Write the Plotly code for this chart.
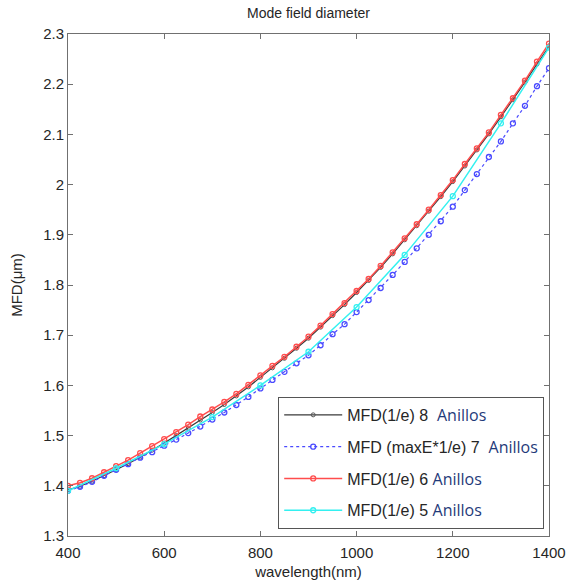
import plotly.graph_objects as go

wl = list(range(400, 1401, 25))
wl_c = list(range(400, 1401, 100))

mfd8 = [1.392, 1.399, 1.409, 1.420, 1.432, 1.444, 1.457, 1.471, 1.485, 1.500,
        1.515, 1.531, 1.546, 1.562, 1.579, 1.597, 1.616, 1.635, 1.654, 1.674,
        1.694, 1.716, 1.739, 1.761, 1.785, 1.809, 1.835, 1.862, 1.890, 1.918,
        1.947, 1.976, 2.006, 2.037, 2.069, 2.101, 2.135, 2.169, 2.204, 2.240, 2.275]
mfd7 = [1.390, 1.398, 1.408, 1.420, 1.432, 1.443, 1.456, 1.467, 1.480, 1.492,
        1.505, 1.518, 1.532, 1.546, 1.561, 1.577, 1.594, 1.611, 1.627, 1.644,
        1.660, 1.680, 1.702, 1.722, 1.746, 1.770, 1.794, 1.820, 1.846, 1.873,
        1.900, 1.927, 1.956, 1.989, 2.021, 2.055, 2.086, 2.122, 2.157, 2.196, 2.232]
mfd6 = [1.400, 1.406, 1.415, 1.427, 1.439, 1.451, 1.465, 1.479, 1.493, 1.507,
        1.522, 1.538, 1.552, 1.567, 1.583, 1.601, 1.620, 1.639, 1.657, 1.677,
        1.697, 1.719, 1.742, 1.764, 1.788, 1.812, 1.838, 1.865, 1.893, 1.921,
        1.950, 1.979, 2.009, 2.041, 2.072, 2.104, 2.139, 2.172, 2.207, 2.245, 2.281]
mfd5 = [1.390, 1.435, 1.483, 1.537, 1.600, 1.667, 1.756, 1.860, 1.977, 2.122, 2.273]

names = ["MFD(1/e) 8  ", "MFD (maxE*1/e) 7  ", "MFD(1/e) 6 ", "MFD(1/e) 5 "]
suffix = "<span style='font-family:\"Open Sans\"; fill:#1f3a7a'>Anillos</span>"

fig = go.Figure()
fig.add_trace(go.Scatter(x=wl, y=mfd8, mode="lines+markers", name=names[0] + suffix,
                         legendgroup="a",
                         line=dict(color="#3a3a3a", width=1.2),
                         marker=dict(symbol="circle-open", size=4, color="#555555", line=dict(width=1))))
fig.add_trace(go.Scatter(x=wl, y=mfd7, mode="lines+markers", name=names[1] + suffix,
                         legendgroup="b",
                         line=dict(color="#4a4aff", width=1.2, dash="dot"),
                         marker=dict(symbol="circle-open", size=5, color="#4a4aff", line=dict(width=1.3))))
fig.add_trace(go.Scatter(x=wl, y=mfd6, mode="lines+markers", name=names[2] + suffix,
                         legendgroup="c",
                         line=dict(color="#ff4d4d", width=1.5),
                         marker=dict(symbol="circle-open", size=5, color="#ff4d4d", line=dict(width=1.3))))
fig.add_trace(go.Scatter(x=wl_c, y=mfd5, mode="lines+markers", name=names[3] + suffix,
                         legendgroup="d",
                         line=dict(color="#33f0f0", width=1.5),
                         marker=dict(symbol="circle-open", size=5, color="#33f0f0", line=dict(width=1.3))))

axis_common = dict(showline=True, linecolor="#707070", linewidth=1, mirror="ticks",
                   ticks="inside", ticklen=5, tickcolor="#707070", showgrid=False,
                   zeroline=False, automargin=False,
                   tickfont=dict(size=15, color="#262626"))

fig.update_layout(
    template="none",
    width=571, height=586,
    margin=dict(l=68, r=22, t=34, b=50, pad=0),
    paper_bgcolor="white", plot_bgcolor="white",
    font=dict(family="Liberation Sans, Arial, sans-serif", color="#262626"),
    title=dict(text="Mode field diameter", x=0.5, xref="paper", xanchor="center",
               y=0.977, yanchor="middle", font=dict(size=14, color="#262626")),
    xaxis=dict(range=[400, 1400], tickvals=[400, 600, 800, 1000, 1200, 1400],
               ticklabelstandoff=3,
               title=dict(text="wavelength(nm)", font=dict(size=15), standoff=6), **axis_common),
    yaxis=dict(range=[1.3, 2.3], tickvals=[1.3 + 0.1 * i for i in range(11)],
               ticktext=["1.3", "1.4", "1.5", "1.6", "1.7", "1.8", "1.9", "2", "2.1", "2.2", "2.3"],
               title=dict(text="MFD(μm)", font=dict(size=15), standoff=16), **axis_common),
    legend=dict(x=0.437, y=0.277, xanchor="left", yanchor="top",
                bgcolor="white", bordercolor="#555555", borderwidth=1,
                font=dict(size=16, color="#262626"), itemwidth=58,
                tracegroupgap=8),
    showlegend=True,
)

fig.write_html("out.html")
